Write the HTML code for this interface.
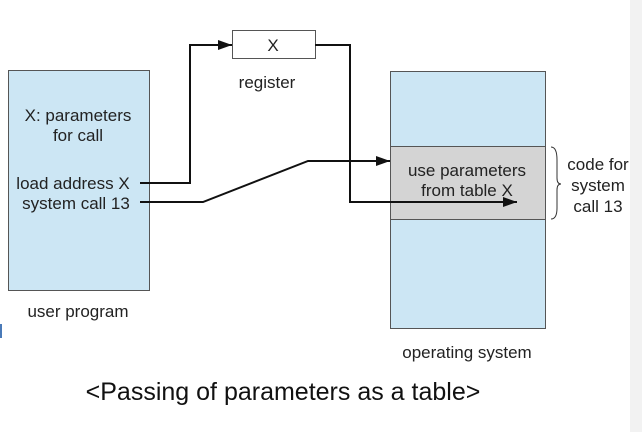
<!DOCTYPE html>
<html><head><style>
body{margin:0;width:642px;height:432px;background:#fff;overflow:hidden;position:relative;font-family:"Liberation Sans",sans-serif;}
</style></head><body>
<div style="position:absolute;left:630px;top:0;width:12px;height:432px;background:#f2f2f2"></div>
<svg width="642" height="432" style="position:absolute;left:0;top:0" font-family="Liberation Sans, sans-serif" fill="#222">
<defs><marker id="a" markerWidth="14" markerHeight="10" refX="14" refY="5" orient="auto" markerUnits="userSpaceOnUse"><path d="M0,0 L14,5 L0,10z" fill="#111"/></marker></defs>
<rect x="8.5" y="70.5" width="141" height="220" fill="#cce6f4" stroke="#555"/>
<rect x="232.5" y="30.5" width="83" height="28" fill="#fff" stroke="#555"/>
<rect x="390.5" y="71.5" width="155" height="257" fill="#cce6f4" stroke="#555"/>
<rect x="390.5" y="146.5" width="155" height="73" fill="#d4d4d4" stroke="#555"/>
<g stroke="#111" stroke-width="2" fill="none">
<path d="M140,183 H190 V45 H232" marker-end="url(#a)"/>
<path d="M315,45 H350 V202 H517" marker-end="url(#a)"/>
<path d="M140,202 H203 L308,161 H390" marker-end="url(#a)"/>
</g>
<path d="M551,147 Q557,147 557,160 V178 Q557,184 561,184 Q557,184 557,190 V208 Q557,219 551,219" stroke="#333" fill="none"/>
<g font-size="17" text-anchor="middle">
<text x="78" y="121">X: parameters</text>
<text x="78" y="141">for call</text>
<text x="73" y="189">load address X</text>
<text x="76" y="209">system call 13</text>
<text x="78" y="317">user program</text>
<text x="273" y="51">X</text>
<text x="267" y="88">register</text>
<text x="467" y="176">use parameters</text>
<text x="467" y="196">from table X</text>
<text x="598" y="170">code for</text>
<text x="598" y="191">system</text>
<text x="598" y="212">call 13</text>
<text x="467" y="358">operating system</text>
</g>
<text x="283" y="400" font-size="25" text-anchor="middle" fill="#111">&lt;Passing of parameters as a table&gt;</text>
<rect x="0" y="324" width="2" height="14" fill="#4a7ab8"/>
</svg>
</body></html>
